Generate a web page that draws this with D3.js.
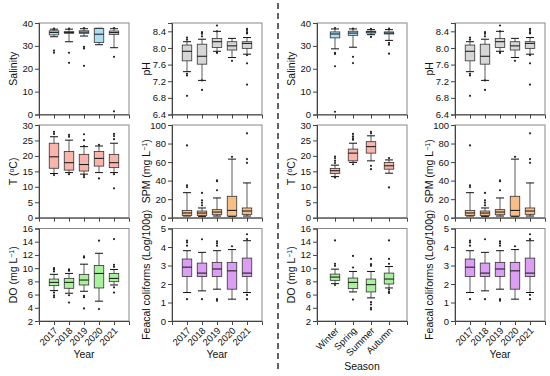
<!DOCTYPE html>
<html>
<head>
<meta charset="utf-8">
<script src="https://cdn.jsdelivr.net/npm/d3@7"></script>
<style>
  body { margin: 0; background: #fff; }
  text { font-family: "Liberation Sans", Arial, sans-serif; }
</style>
</head>
<body>
<div id="chart"></div>
<script>
const years = ["2017", "2018", "2019", "2020", "2021"];
const seasons = ["Winter", "Spring", "Summer", "Autumn"];

// box stats: lo/hi = whisker ends, out = single points
const salinityByYear = [
  { lo: 34.0, q1: 34.8, med: 35.9, q3: 36.6, hi: 37.3, out: [37.6, 27.9, 27.0] },
  { lo: 31.8, q1: 35.5, med: 35.9, q3: 36.2, hi: 37.3, out: [37.5, 27.0, 22.6] },
  { lo: 34.3, q1: 35.5, med: 36.0, q3: 36.6, hi: 37.5, out: [37.8, 29.6, 28.9, 21.3] },
  { lo: 30.5, q1: 31.5, med: 35.1, q3: 37.6, hi: 37.7, out: [] },
  { lo: 29.2, q1: 35.0, med: 35.8, q3: 36.5, hi: 37.5, out: [37.8, 25.2, 1.4] }
];
const phByYear = [
  { lo: 7.43, q1: 7.69, med: 7.92, q3: 8.07, hi: 8.15, out: [8.25, 8.2, 7.38, 7.34, 6.85] },
  { lo: 7.22, q1: 7.61, med: 7.80, q3: 8.09, hi: 8.21, out: [8.38, 8.34, 8.28, 7.22, 6.99] },
  { lo: 7.92, q1: 8.01, med: 8.15, q3: 8.23, hi: 8.40, out: [8.54, 8.40, 7.90, 7.88] },
  { lo: 7.77, q1: 7.95, med: 8.05, q3: 8.15, hi: 8.23, out: [7.69] },
  { lo: 7.85, q1: 7.99, med: 8.11, q3: 8.15, hi: 8.25, out: [8.46, 8.43, 8.38, 8.35, 7.83, 7.63, 7.12] }
];
const tempByYear = [
  { lo: 14.3, q1: 16.0, med: 19.7, q3: 24.1, hi: 26.2, out: [27.8, 27.1, 13.8] },
  { lo: 14.6, q1: 15.4, med: 17.8, q3: 21.4, hi: 25.1, out: [26.8, 26.2, 14.1] },
  { lo: 14.1, q1: 15.1, med: 17.2, q3: 20.5, hi: 23.0, out: [27.0, 25.1, 23.2, 13.8, 13.1] },
  { lo: 14.6, q1: 16.7, med: 19.2, q3: 21.4, hi: 23.2, out: [23.6, 12.7] },
  { lo: 14.6, q1: 16.2, med: 17.8, q3: 20.5, hi: 24.1, out: [27.1, 26.4, 25.4, 14.1, 9.5] }
];
const spmByYear = [
  { lo: 1.8, q1: 2.5, med: 5.1, q3: 7.9, hi: 27, out: [35, 33, 78] },
  { lo: 1.4, q1: 2.5, med: 5.0, q3: 7.2, hi: 10.5, out: [26.7, 18.8, 16.2, 13.4] },
  { lo: 1.8, q1: 3.2, med: 6.1, q3: 8.7, hi: 21.3, out: [40.4, 39.4, 29.6] },
  { lo: 1.4, q1: 1.8, med: 7.9, q3: 23.1, hi: 63.2, out: [65.7] },
  { lo: 1.8, q1: 3.6, med: 7.2, q3: 10.5, hi: 37.5, out: [91, 63.2, 59.2] }
];
const doByYear = [
  { lo: 6.6, q1: 7.35, med: 7.85, q3: 8.35, hi: 9.06, out: [10.0, 9.8, 9.5, 6.3, 5.9, 5.6] },
  { lo: 6.2, q1: 6.95, med: 7.85, q3: 8.45, hi: 9.2, out: [9.8, 9.6, 5.9, 4.8] },
  { lo: 6.5, q1: 7.45, med: 8.2, q3: 9.06, hi: 10.6, out: [11.8, 11.6, 5.8, 5.6, 3.9] },
  { lo: 5.0, q1: 7.0, med: 9.2, q3: 10.4, hi: 12.25, out: [14.15, 3.8] },
  { lo: 7.45, q1: 7.95, med: 8.45, q3: 9.2, hi: 9.8, out: [14.4, 10.5, 10.2, 7.1, 6.3] }
];
const fecalByYear = [
  { lo: 1.54, q1: 2.41, med: 2.91, q3: 3.35, hi: 3.8, out: [4.34, 4.25, 4.07, 1.18] },
  { lo: 1.63, q1: 2.41, med: 2.59, q3: 3.13, hi: 3.71, out: [4.42, 1.18] },
  { lo: 1.72, q1: 2.41, med: 2.81, q3: 3.17, hi: 3.8, out: [4.3, 4.2, 4.07, 1.18, 1.1] },
  { lo: 1.18, q1: 1.72, med: 2.71, q3: 3.17, hi: 3.86, out: [4.04] },
  { lo: 1.54, q1: 2.41, med: 2.59, q3: 3.4, hi: 4.34, out: [4.69, 4.43, 1.41, 1.18] }
];
const salinityBySeason = [
  { lo: 28.7, q1: 33.5, med: 35.2, q3: 36.1, hi: 37.4, out: [37.8, 26.9, 26.5, 21.1, 1.2] },
  { lo: 29.4, q1: 34.6, med: 35.6, q3: 36.4, hi: 37.4, out: [37.6, 25.2, 22.5] },
  { lo: 34.9, q1: 35.6, med: 36.1, q3: 36.4, hi: 37.1, out: [37.4, 33.9] },
  { lo: 32.4, q1: 35.2, med: 35.6, q3: 36.1, hi: 37.1, out: [37.5, 31.3, 30.5, 26.6] }
];
const tempBySeason = [
  { lo: 13.3, q1: 14.3, med: 15.2, q3: 15.9, hi: 17.0, out: [19.8, 19.2, 18.4, 17.7, 13.0] },
  { lo: 17.9, q1: 18.4, med: 20.9, q3: 22.2, hi: 24.1, out: [27.1, 26.3, 25.7, 25.2, 17.3] },
  { lo: 18.4, q1: 20.9, med: 23.0, q3: 24.6, hi: 26.5, out: [27.8, 27.3, 16.8, 15.7] },
  { lo: 14.4, q1: 15.7, med: 16.8, q3: 17.9, hi: 18.7, out: [19.3, 9.8] }
];
const doBySeason = [
  { lo: 7.65, q1: 8.15, med: 8.65, q3: 9.1, hi: 9.85, out: [14.2, 10.65, 10.35, 7.45] },
  { lo: 6.4, q1: 6.9, med: 7.85, q3: 8.5, hi: 9.5, out: [11.85, 10.1, 5.25] },
  { lo: 5.5, q1: 6.4, med: 7.5, q3: 8.35, hi: 9.5, out: [11.4, 10.6, 10.35, 4.85, 4.5, 4.0, 3.75] },
  { lo: 7.0, q1: 7.6, med: 8.35, q3: 9.25, hi: 10.25, out: [14.2, 11.4, 10.65, 6.75, 6.4, 6.25] }
];

const salinityTicks = [0, 10, 20, 30, 40];
const phTicks = [6.4, 6.8, 7.2, 7.6, 8.0, 8.4];
const tempTicks = [0, 5, 10, 15, 20, 25, 30];
const spmTicks = [0, 20, 40, 60, 80, 100];
const doTicks = [2, 4, 6, 8, 10, 12, 14, 16];
const fecalTicks = [0, 1, 2, 3, 4, 5];

const svg = d3.select("#chart")
  .append("svg")
  .attr("width", 550)
  .attr("height", 376);

const colLeft = [39, 172, 317, 455];
const rows = [[23, 114.5], [125, 217.7], [228.5, 321]];
const plotW = 90;

function drawPanel(col, row, cats, domain, ticks, fmt, data, fill, label, xTitle) {
  const x0 = colLeft[col];
  const [top, bottom] = rows[row];
  const g = svg.append("g");

  const x = d3.scalePoint().domain(cats).range([x0, x0 + plotW]).padding(1);
  const y = d3.scaleLinear().domain(domain).range([bottom, top]);

  g.append("rect")
    .attr("x", x0).attr("y", top)
    .attr("width", plotW).attr("height", bottom - top)
    .attr("fill", "none")
    .attr("stroke", "#888")
    .attr("stroke-width", 1);

  const yAxis = g.append("g")
    .attr("transform", `translate(${x0},0)`)
    .call(d3.axisLeft(y).tickValues(ticks).tickSize(4).tickPadding(2).tickFormat(fmt));
  yAxis.select(".domain").attr("stroke", "#444");
  yAxis.selectAll(".tick line").attr("stroke", "#444");
  yAxis.selectAll("text").style("font-size", "9.5px").attr("fill", "#111");

  const xAxis = g.append("g")
    .attr("transform", `translate(0,${bottom})`)
    .call(d3.axisBottom(x).tickSize(4).tickFormat(""));
  xAxis.select(".domain").attr("stroke", "#444");
  xAxis.selectAll(".tick line").attr("stroke", "#444");

  const bw = 9.5, cw = 8;
  data.forEach((d, i) => {
    const cx = x(cats[i]);
    const b = g.append("g");
    b.append("line")
      .attr("x1", cx).attr("x2", cx)
      .attr("y1", y(d.hi)).attr("y2", y(d.lo))
      .attr("stroke", "#333").attr("stroke-width", 0.8);
    [d.hi, d.lo].forEach(v => {
      b.append("line")
        .attr("x1", cx - cw / 2).attr("x2", cx + cw / 2)
        .attr("y1", y(v)).attr("y2", y(v))
        .attr("stroke", "#111").attr("stroke-width", 1);
    });
    b.append("rect")
      .attr("x", cx - bw / 2).attr("y", y(d.q3))
      .attr("width", bw).attr("height", Math.max(0.5, y(d.q1) - y(d.q3)))
      .attr("fill", fill)
      .attr("stroke", "#333").attr("stroke-width", 0.8);
    b.append("line")
      .attr("x1", cx - bw / 2).attr("x2", cx + bw / 2)
      .attr("y1", y(d.med)).attr("y2", y(d.med))
      .attr("stroke", "#111").attr("stroke-width", 1);
    b.selectAll("circle")
      .data(d.out)
      .join("circle")
      .attr("cx", cx).attr("cy", v => y(v))
      .attr("r", 1.1)
      .attr("fill", "#222");
  });

  const yl = g.append("text")
    .attr("transform", `translate(${x0 - 22},${(top + bottom) / 2}) rotate(-90)`)
    .attr("text-anchor", "middle")
    .style("font-size", "10.5px")
    .attr("fill", "#111");
  label.forEach(part => {
    const t = yl.append("tspan").text(part.t);
    if (part.sup) t.attr("baseline-shift", "super").style("font-size", "7px");
  });

  if (xTitle) {
    g.selectAll(".xlab")
      .data(cats)
      .join("text")
      .attr("class", "xlab")
      .attr("transform", c => `translate(${x(c) + 2},${bottom + 8}) rotate(-45)`)
      .attr("text-anchor", "end")
      .attr("dy", "0.35em")
      .style("font-size", "9.5px")
      .attr("fill", "#111")
      .text(c => c);

    g.append("text")
      .attr("x", x0 + plotW / 2)
      .attr("y", xTitle === "Season" ? 370 : 358)
      .attr("text-anchor", "middle")
      .style("font-size", "10.5px")
      .attr("fill", "#111")
      .text(xTitle);
  }
}

const f0 = d3.format("d");
const f1 = d3.format(".1f");

const salinityLabel = [{ t: "Salinity" }];
const phLabel = [{ t: "pH" }];
const tempLabel = [{ t: "T (" }, { t: "o", sup: true }, { t: "C)" }];
const spmLabel = [{ t: "SPM (mg L" }, { t: "\u22121", sup: true }, { t: ")" }];
const doLabel = [{ t: "DO (mg L" }, { t: "\u22121", sup: true }, { t: ")" }];
const fecalLabel = [{ t: "Feacal coliforms (Log/100g)" }];

// left half: by year
drawPanel(0, 0, years, [0, 40], salinityTicks, f0, salinityByYear, "#aadff4", salinityLabel);
drawPanel(1, 0, years, [6.4, 8.6], phTicks, f1, phByYear, "#d6d6d6", phLabel);
drawPanel(0, 1, years, [0, 30], tempTicks, f0, tempByYear, "#f9b4ab", tempLabel);
drawPanel(1, 1, years, [0, 100], spmTicks, f0, spmByYear, "#f7be88", spmLabel);
drawPanel(0, 2, years, [2, 16], doTicks, f0, doByYear, "#a9f19c", doLabel, "Year");
drawPanel(1, 2, years, [0, 5], fecalTicks, f0, fecalByYear, "#dc9ef3", fecalLabel, "Year");

// right half: salinity, T, DO by season; pH, SPM, FC by year
drawPanel(2, 0, seasons, [0, 40], salinityTicks, f0, salinityBySeason, "#aadff4", salinityLabel);
drawPanel(3, 0, years, [6.4, 8.6], phTicks, f1, phByYear, "#d6d6d6", phLabel);
drawPanel(2, 1, seasons, [0, 30], tempTicks, f0, tempBySeason, "#f9b4ab", tempLabel);
drawPanel(3, 1, years, [0, 100], spmTicks, f0, spmByYear, "#f7be88", spmLabel);
drawPanel(2, 2, seasons, [2, 16], doTicks, f0, doBySeason, "#a9f19c", doLabel, "Season");
drawPanel(3, 2, years, [0, 5], fecalTicks, f0, fecalByYear, "#dc9ef3", fecalLabel, "Year");

svg.append("line")
  .attr("x1", 278).attr("x2", 278)
  .attr("y1", 3).attr("y2", 373)
  .attr("stroke", "#111")
  .attr("stroke-width", 1.3)
  .attr("stroke-dasharray", "6,4");
</script>
</body>
</html>
